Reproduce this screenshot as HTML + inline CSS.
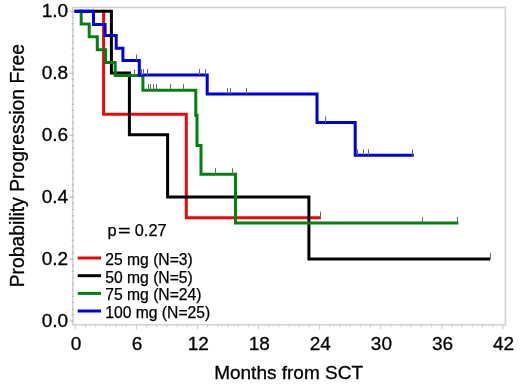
<!DOCTYPE html>
<html><head><meta charset="utf-8"><style>
html,body{margin:0;padding:0;background:#fff;width:520px;height:389px;overflow:hidden}
svg{display:block;font-family:"Liberation Sans", sans-serif;filter:blur(0.4px)}
</style></head><body>
<svg width="520" height="389" viewBox="0 0 520 389"><rect width="520" height="389" fill="#fff"/><rect x="72.9" y="7.5" width="432.5" height="317.3" fill="none" stroke="#d2d2d2" stroke-width="1.6"/><path d="M75.3 324.8V329.3M85.5 324.8V327.3M95.7 324.8V327.3M105.8 324.8V327.3M116.0 324.8V327.3M126.2 324.8V327.3M136.4 324.8V329.3M146.6 324.8V327.3M156.7 324.8V327.3M166.9 324.8V327.3M177.1 324.8V327.3M187.3 324.8V327.3M197.5 324.8V329.3M207.6 324.8V327.3M217.8 324.8V327.3M228.0 324.8V327.3M238.2 324.8V327.3M248.4 324.8V327.3M258.5 324.8V329.3M268.7 324.8V327.3M278.9 324.8V327.3M289.1 324.8V327.3M299.3 324.8V327.3M309.4 324.8V327.3M319.6 324.8V329.3M329.8 324.8V327.3M340.0 324.8V327.3M350.2 324.8V327.3M360.3 324.8V327.3M370.5 324.8V327.3M380.7 324.8V329.3M390.9 324.8V327.3M401.1 324.8V327.3M411.2 324.8V327.3M421.4 324.8V327.3M431.6 324.8V327.3M441.8 324.8V329.3M452.0 324.8V327.3M462.1 324.8V327.3M472.3 324.8V327.3M482.5 324.8V327.3M492.7 324.8V327.3M502.9 324.8V329.3" stroke="#c8c8c8" stroke-width="1" fill="none"/><path d="M73.7 321.0H69.7M73.7 314.8H71.7M73.7 308.6H71.7M73.7 302.4H71.7M73.7 296.2H71.7M73.7 290.0H71.7M73.7 283.8H71.7M73.7 277.6H71.7M73.7 271.4H71.7M73.7 265.3H71.7M73.7 259.1H69.7M73.7 252.9H71.7M73.7 246.7H71.7M73.7 240.5H71.7M73.7 234.3H71.7M73.7 228.1H71.7M73.7 221.9H71.7M73.7 215.7H71.7M73.7 209.5H71.7M73.7 203.3H71.7M73.7 197.1H69.7M73.7 190.9H71.7M73.7 184.7H71.7M73.7 178.5H71.7M73.7 172.3H71.7M73.7 166.2H71.7M73.7 160.0H71.7M73.7 153.8H71.7M73.7 147.6H71.7M73.7 141.4H71.7M73.7 135.2H69.7M73.7 129.0H71.7M73.7 122.8H71.7M73.7 116.6H71.7M73.7 110.4H71.7M73.7 104.2H71.7M73.7 98.0H71.7M73.7 91.8H71.7M73.7 85.6H71.7M73.7 79.4H71.7M73.7 73.2H69.7M73.7 67.0H71.7M73.7 60.9H71.7M73.7 54.7H71.7M73.7 48.5H71.7M73.7 42.3H71.7M73.7 36.1H71.7M73.7 29.9H71.7M73.7 23.7H71.7M73.7 17.5H71.7M73.7 11.3H69.7" stroke="#b4b4b4" stroke-width="1.1" fill="none"/><text x="68.2" y="17.1" text-anchor="end" font-size="19" fill="#000" stroke="#000" stroke-width="0.3">1.0</text><text x="68.2" y="79.0" text-anchor="end" font-size="19" fill="#000" stroke="#000" stroke-width="0.3">0.8</text><text x="68.2" y="141.0" text-anchor="end" font-size="19" fill="#000" stroke="#000" stroke-width="0.3">0.6</text><text x="68.2" y="202.9" text-anchor="end" font-size="19" fill="#000" stroke="#000" stroke-width="0.3">0.4</text><text x="68.2" y="264.9" text-anchor="end" font-size="19" fill="#000" stroke="#000" stroke-width="0.3">0.2</text><text x="68.2" y="326.8" text-anchor="end" font-size="19" fill="#000" stroke="#000" stroke-width="0.3">0.0</text><text x="76.0" y="349.6" text-anchor="middle" font-size="19" fill="#000" stroke="#000" stroke-width="0.3">0</text><text x="137.1" y="349.6" text-anchor="middle" font-size="19" fill="#000" stroke="#000" stroke-width="0.3">6</text><text x="198.2" y="349.6" text-anchor="middle" font-size="19" fill="#000" stroke="#000" stroke-width="0.3">12</text><text x="259.2" y="349.6" text-anchor="middle" font-size="19" fill="#000" stroke="#000" stroke-width="0.3">18</text><text x="320.3" y="349.6" text-anchor="middle" font-size="19" fill="#000" stroke="#000" stroke-width="0.3">24</text><text x="381.4" y="349.6" text-anchor="middle" font-size="19" fill="#000" stroke="#000" stroke-width="0.3">30</text><text x="442.5" y="349.6" text-anchor="middle" font-size="19" fill="#000" stroke="#000" stroke-width="0.3">36</text><text x="503.6" y="349.6" text-anchor="middle" font-size="19" fill="#000" stroke="#000" stroke-width="0.3">42</text><text x="288.6" y="379.4" text-anchor="middle" font-size="19" fill="#000" stroke="#000" stroke-width="0.3">Months from SCT</text><text transform="translate(23.6,165.6) rotate(-90)" text-anchor="middle" font-size="19.3" fill="#000" stroke="#000" stroke-width="0.3">Probability Progression Free</text><path d="M103.6 9.8V11.3V114.2H186.3V217.7H320.9" fill="none" stroke="#e80808" stroke-width="3" stroke-linejoin="miter" stroke-linecap="butt"/><path d="M74.5 11.3H111.4V73.1H129.4V134.7H167.6V197.1H308.9V258.9H490.2" fill="none" stroke="#000000" stroke-width="3" stroke-linejoin="miter" stroke-linecap="butt"/><path d="M79.7 11.3H81.2V24H89.2V36.8H97.3V49.7H105.6V62.6H115.2V75.6H142.9V90.2H195.8V115.5H197V145.4H201V174.2H235.5V223.1H458.4" fill="none" stroke="#067f10" stroke-width="3" stroke-linejoin="miter" stroke-linecap="butt"/><path d="M74.5 11.3H93.5V24.4H105.1V35.6H116.2V48.3H122.9V60.5H139.3V75.0H207.2V94H317V122.5H355.2V155.3H413.8" fill="none" stroke="#0000d8" stroke-width="3" stroke-linejoin="miter" stroke-linecap="butt"/><path d="M320.5 211.7V217.7" fill="none" stroke="#666" stroke-width="1"/><path d="M490.5 252.9V258.9" fill="none" stroke="#666" stroke-width="1"/><path d="M134.5 69.6V75.6M148.5 84.2V90.2M150.5 84.2V90.2M153.5 84.2V90.2M156.5 84.2V90.2M170.5 84.2V90.2M183.5 84.2V90.2M215.5 168.2V174.2M232.5 168.2V174.2M422.5 217.1V223.1M457.5 217.1V223.1" fill="none" stroke="#666" stroke-width="1"/><path d="M136.5 54.5V60.5M141.5 69.0V75.0M143.5 69.0V75.0M147.5 69.0V75.0M199.5 69.0V75.0M205.5 69.0V75.0M227.5 88.0V94.0M230.5 88.0V94.0M246.5 88.0V94.0M325.5 116.5V122.5M357.5 149.3V155.3M363.5 149.3V155.3M368.5 149.3V155.3M412.5 149.3V155.3" fill="none" stroke="#666" stroke-width="1"/><text x="107.4" y="236.2" font-size="16.4" fill="#000" stroke="#000" stroke-width="0.25">p</text><text x="0" y="0" transform="translate(117.9,236.2) scale(1.38,1)" font-size="15.6" fill="#000" stroke="#000" stroke-width="0.25">=</text><text x="134.8" y="236.2" font-size="16.3" fill="#000" stroke="#000" stroke-width="0.25">0.27</text><path d="M77.7 258.0H101" stroke="#e80808" stroke-width="3"/><text x="105.2" y="265.0" font-size="15.7" fill="#000" stroke="#000" stroke-width="0.25">25 mg (N=3)</text><path d="M77.7 275.7H101" stroke="#000000" stroke-width="3"/><text x="105.2" y="282.7" font-size="15.7" fill="#000" stroke="#000" stroke-width="0.25">50 mg (N=5)</text><path d="M77.7 293.4H101" stroke="#067f10" stroke-width="3"/><text x="105.2" y="300.4" font-size="15.7" fill="#000" stroke="#000" stroke-width="0.25">75 mg (N=24)</text><path d="M77.7 311.0H101" stroke="#0000d8" stroke-width="3"/><text x="105.2" y="318.0" font-size="15.7" fill="#000" stroke="#000" stroke-width="0.25">100 mg (N=25)</text></svg>
</body></html>
